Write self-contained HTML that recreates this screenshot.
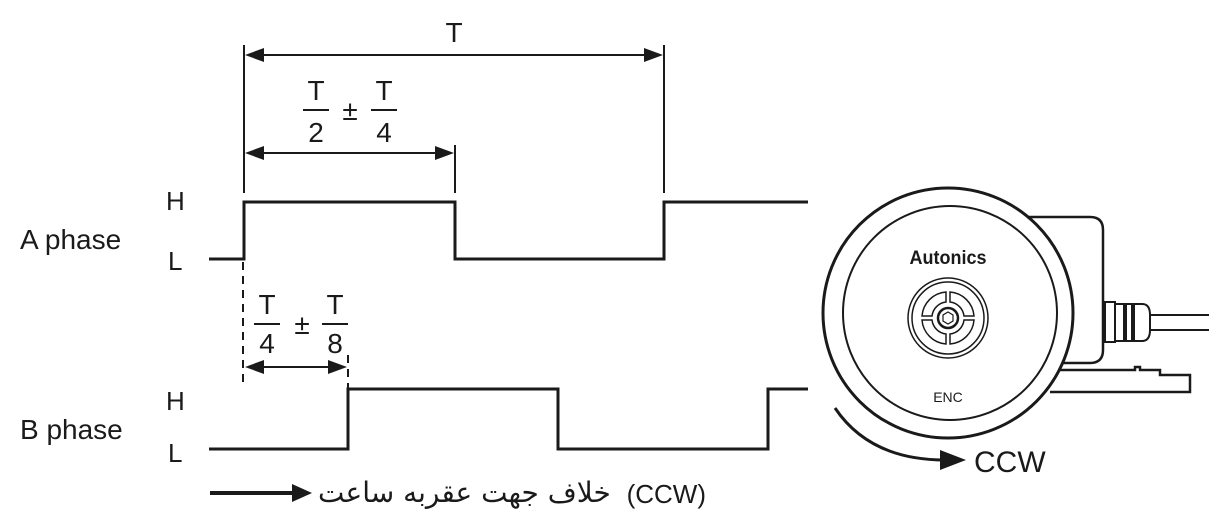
<!DOCTYPE html>
<html><head><meta charset="utf-8"><style>
html,body{margin:0;padding:0;background:#fff;width:1209px;height:522px;overflow:hidden;position:relative}
text{font-family:"Liberation Sans",sans-serif;fill:#1a1a1a}
.ar{position:absolute;left:318px;top:476px;font-family:"DejaVu Sans","Liberation Sans",sans-serif;font-size:28px;color:#1a1a1a;white-space:nowrap;line-height:34px}
</style></head><body>
<svg width="1209" height="522" viewBox="0 0 1209 522" xmlns="http://www.w3.org/2000/svg" style="position:absolute;left:0;top:0">
<g stroke="#1a1a1a" fill="none">
<polyline stroke-width="3" points="209,259 244,259 244,202 455,202 455,259 664,259 664,202 808,202"/>
<polyline stroke-width="3" points="209,449 348,449 348,389 558,389 558,449 768,449 768,389 808,389"/>
<line x1="244" y1="45" x2="244" y2="193" stroke-width="2"/>
<line x1="664" y1="45" x2="664" y2="193" stroke-width="2"/>
<line x1="455" y1="145" x2="455" y2="193" stroke-width="2"/>
<line x1="258" y1="55" x2="650" y2="55" stroke-width="2"/>
<line x1="258" y1="153" x2="441" y2="153" stroke-width="2"/>
<line x1="258" y1="367" x2="334" y2="367" stroke-width="2"/>
<line x1="243" y1="262" x2="243" y2="382" stroke-width="2" stroke-dasharray="8,6"/>
<line x1="348" y1="355" x2="348" y2="389" stroke-width="2" stroke-dasharray="8,6"/>
<line x1="210" y1="493" x2="295" y2="493" stroke-width="4"/>
<line x1="303" y1="110" x2="329" y2="110" stroke-width="2"/>
<line x1="371" y1="110" x2="397" y2="110" stroke-width="2"/>
<line x1="254" y1="324" x2="280" y2="324" stroke-width="2"/>
<line x1="322" y1="324" x2="348" y2="324" stroke-width="2"/>
</g>
<g fill="#1a1a1a">
<path d="M245,55 L264,48 L264,62Z"/><path d="M663,55 L644,48 L644,62Z"/>
<path d="M245,153 L264,146 L264,160Z"/><path d="M454,153 L435,146 L435,160Z"/>
<path d="M245,367 L264,360 L264,374Z"/><path d="M347,367 L328,360 L328,374Z"/>
<path d="M312,493 L292,484 L292,502Z"/>
</g>
<text x="454" y="42" font-size="28" text-anchor="middle">T</text>
<text x="316" y="100" font-size="28" text-anchor="middle">T</text>
<text x="316" y="142" font-size="28" text-anchor="middle">2</text>
<text x="350" y="120" font-size="28" text-anchor="middle">±</text>
<text x="384" y="100" font-size="28" text-anchor="middle">T</text>
<text x="384" y="142" font-size="28" text-anchor="middle">4</text>
<text x="267" y="314" font-size="28" text-anchor="middle">T</text>
<text x="267" y="353" font-size="28" text-anchor="middle">4</text>
<text x="302" y="334" font-size="28" text-anchor="middle">±</text>
<text x="335" y="314" font-size="28" text-anchor="middle">T</text>
<text x="335" y="353" font-size="28" text-anchor="middle">8</text>
<text x="20" y="249" font-size="28">A phase</text>
<text x="20" y="439" font-size="28">B phase</text>
<text x="166" y="210" font-size="26">H</text>
<text x="168" y="270" font-size="26">L</text>
<text x="166" y="410" font-size="26">H</text>
<text x="168" y="462" font-size="26">L</text>
<text x="706" y="503" font-size="26" text-anchor="end">(CCW)</text>
<g stroke="#1a1a1a" fill="none">
<path d="M1000,217 L1090,217 Q1103,217 1103,230 L1103,350 Q1103,363 1090,363 L1060,363" stroke-width="2.5"/>
<path d="M1045,370 L1135,370 L1135,367 L1140,367 L1140,370 L1160,370 L1160,375 L1190,375 L1190,392 L1050,392" stroke-width="2.5"/>
<rect x="1105" y="302" width="10" height="40" stroke-width="2"/>
<path d="M1115,304 L1142,304 Q1150,304 1150,315 L1150,330 Q1150,341 1142,341 L1115,341Z" stroke-width="2"/>
<line x1="1125" y1="305" x2="1125" y2="340" stroke-width="4"/>
<line x1="1133" y1="305" x2="1133" y2="340" stroke-width="4"/>
<line x1="1150" y1="315" x2="1209" y2="315" stroke-width="2"/>
<line x1="1150" y1="330" x2="1209" y2="330" stroke-width="2"/>
<circle cx="948" cy="313" r="125" fill="#fff" stroke-width="3"/>
<circle cx="950" cy="313" r="107" stroke-width="2"/>
<circle cx="948" cy="318" r="40" stroke-width="1.5"/>
<circle cx="948" cy="318" r="36" stroke-width="1.5"/>
<path d="M922,316 A26,26 0 0,1 946,292 L946,302 A16,16 0 0,0 932,316Z" stroke-width="1.5"/>
<path d="M950,292 A26,26 0 0,1 974,316 L964,316 A16,16 0 0,0 950,302Z" stroke-width="1.5"/>
<path d="M922,320 A26,26 0 0,0 946,344 L946,334 A16,16 0 0,1 932,320Z" stroke-width="1.5"/>
<path d="M950,344 A26,26 0 0,0 974,320 L964,320 A16,16 0 0,1 950,334Z" stroke-width="1.5"/>
<circle cx="948" cy="318" r="10" stroke-width="2.5"/>
<polygon points="948,312 953,315 953,321 948,324 943,321 943,315" stroke-width="1.2"/>
<path d="M835,408 Q870,460 945,460" stroke-width="3"/>
</g>
<path d="M966,460 L940,450 L940,470Z" fill="#1a1a1a"/>
<text x="948" y="264" font-size="18" font-weight="bold" text-anchor="middle" fill="#222" transform="translate(948,0) scale(1,1.1) translate(-948,-24)">Autonics</text>
<text x="948" y="402" font-size="14" text-anchor="middle" fill="#444">ENC</text>
<text x="974" y="472" font-size="30" fill="#333">CCW</text>
</svg>
<div class="ar" dir="rtl">خلاف جهت عقربه ساعت</div>
</body></html>
